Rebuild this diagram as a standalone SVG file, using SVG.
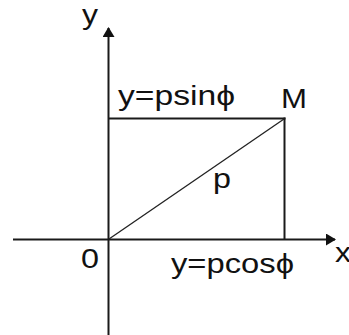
<svg xmlns="http://www.w3.org/2000/svg" width="349" height="335" viewBox="0 0 349 335">
<defs>
<style>
.ax{stroke:#1a1a1a;stroke-width:2;fill:none}
.ln{stroke:#1a1a1a;stroke-width:2;fill:none}
.dg{stroke:#222;stroke-width:1.3;fill:none}
text{font-family:"Liberation Sans",Arial,sans-serif;font-size:27px;fill:#111}
</style>
<marker id="ah" viewBox="0 0 10 12" refX="9" refY="6" markerWidth="10" markerHeight="12" markerUnits="userSpaceOnUse" orient="auto">
<path d="M0,0 L10,6 L0,12 Z" fill="#111"/>
</marker>
</defs>
<rect width="349" height="335" fill="#fff"/>
<g id="connectors">
<line class="ax" x1="108.5" y1="335" x2="108.5" y2="28" marker-end="url(#ah)"/>
<line class="ax" x1="13" y1="239.5" x2="335" y2="239.5" marker-end="url(#ah)"/>
<line class="ln" x1="108" y1="118.5" x2="285.5" y2="118.5"/>
<line class="ln" x1="284.5" y1="117.5" x2="284.5" y2="239"/>
<line class="dg" x1="109" y1="239" x2="284" y2="119"/>
</g>
<g id="axis-y"><text x="82" y="24" textLength="16" lengthAdjust="spacingAndGlyphs">y</text></g>
<g id="axis-x"><text x="335" y="262" textLength="16" lengthAdjust="spacingAndGlyphs">x</text></g>
<g id="origin"><text x="81" y="268" textLength="18" lengthAdjust="spacingAndGlyphs">0</text></g>
<g id="point-M"><text x="281" y="108" textLength="26" lengthAdjust="spacingAndGlyphs">M</text></g>
<g id="label-p"><text x="213" y="188" textLength="18" lengthAdjust="spacingAndGlyphs">p</text></g>
<g id="label-sin"><text x="118" y="105" textLength="117" lengthAdjust="spacingAndGlyphs">y=psinϕ</text></g>
<g id="label-cos"><text x="171" y="273" textLength="123" lengthAdjust="spacingAndGlyphs">y=pcosϕ</text></g>
</svg>
